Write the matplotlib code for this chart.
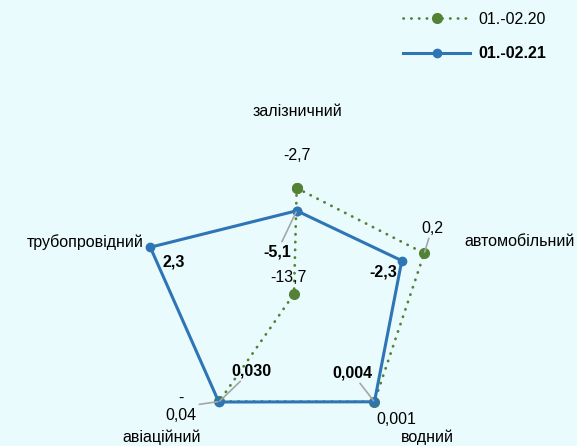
import numpy as np
import matplotlib.pyplot as plt

plt.rcParams['font.family'] = ['Liberation Sans', 'DejaVu Sans']

# data
categories = ['залізничний', 'автомобільний', 'водний', 'авіаційний', 'трубопровідний']
series_names = ['01.-02.20', '01.-02.21']
vals_20 = [-2.7, 0.2, 0.001, -0.04, -13.7]
vals_21 = [-5.1, -2.3, 0.004, 0.030, 2.3]
labels_20 = ['-2,7', '0,2', '0,001', '-\n0,04', '-13,7']
labels_21 = ['-5,1', '-2,3', '0,004', '0,030', '2,3']

W, H = 577, 446
bg = '#eafbfd'
green = '#548235'
blue = '#2e75b6'
grey = '#a6a6a6'
fs = 11.5


def px(x, y):
    # pixel position (from top-left) -> figure fraction
    return (x / W, 1 - y / H)


fig = plt.figure(figsize=(W / 100, H / 100), dpi=100, facecolor=bg)

# polar axes: centre at (296.7, 294.8) px, radius 170 px
cx, cy, R = 296.7, 294.8, 170
ax = fig.add_axes([(cx - R) / W, (H - cy - R) / H, 2 * R / W, 2 * R / H],
                  projection='polar')
ax.set_theta_offset(np.pi / 2)
ax.set_theta_direction(-1)
ax.set_ylim(-14, 4)
ax.patch.set_visible(False)
ax.grid(False)
ax.set_xticks([])
ax.set_yticks([])
ax.spines['polar'].set_visible(False)

theta = np.arange(len(categories)) * 2 * np.pi / len(categories)
th = np.append(theta, theta[0])

ax.plot(th, np.append(vals_20, vals_20[0]), color=green, lw=2.0,
        linestyle=(0, (0.1, 2.7)), dash_capstyle='round',
        marker='o', markersize=7, label=series_names[0], zorder=3)
ax.plot(th, np.append(vals_21, vals_21[0]), color=blue, lw=2.2,
        marker='o', markersize=6, label=series_names[1], zorder=4)

# data labels (pixel centres) and whether a leader line is drawn
pos_20 = [(297, 156), (432, 228), (396, 419), (181, 407), (288, 277)]
lead_20 = [False, True, False, True, False]
pos_21 = [(277, 252), (383, 272), (352, 373), (251, 371), (174, 262)]
lead_21 = [True, False, True, True, False]

for t, v, s, p, ld in zip(theta, vals_20, labels_20, pos_20, lead_20):
    ax.annotate(s, xy=(t, v), xytext=px(*p), textcoords='figure fraction',
                ha='center', va='center', fontsize=fs, linespacing=1.2,
                arrowprops=dict(arrowstyle='-', color=grey, lw=1.2, shrinkA=0, shrinkB=1) if ld else None,
                zorder=6)
for t, v, s, p, ld in zip(theta, vals_21, labels_21, pos_21, lead_21):
    ax.annotate(s, xy=(t, v), xytext=px(*p), textcoords='figure fraction',
                ha='center', va='center', fontsize=fs, fontweight='bold',
                arrowprops=dict(arrowstyle='-', color=grey, lw=1.2, shrinkA=0, shrinkB=1) if ld else None,
                zorder=6)

# category names
cat_pos = [(297, 111), (520, 242), (427, 437), (162, 437), (85, 242)]
for c, p in zip(categories, cat_pos):
    fig.text(*px(*p), c, ha='center', va='center', fontsize=fs)

leg = fig.legend(loc='upper left', bbox_to_anchor=px(403, 12), frameon=False,
                 fontsize=fs, handlelength=4.2, labelspacing=1.2,
                 handletextpad=0.5, numpoints=1, borderaxespad=0,
                 borderpad=0)
leg.get_texts()[1].set_fontweight('bold')

fig.savefig('out.png', dpi=100, facecolor=bg)
